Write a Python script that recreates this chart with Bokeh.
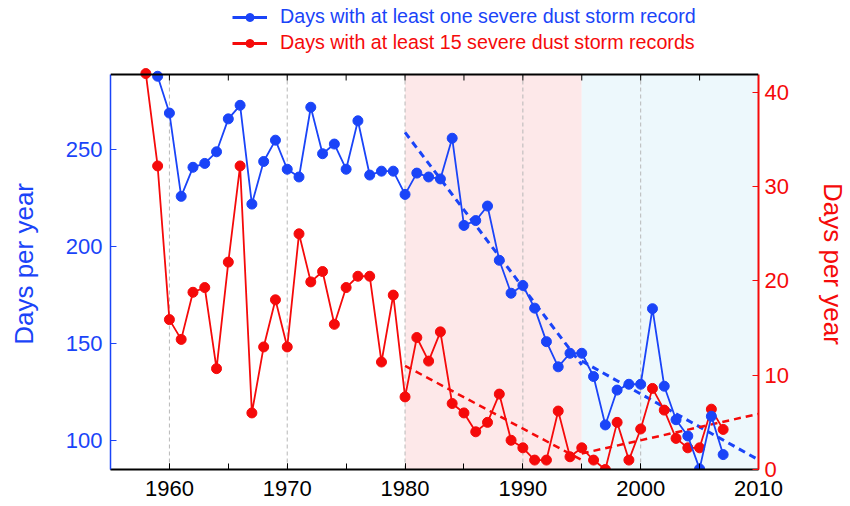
from bokeh.plotting import figure
from bokeh.models import (Range1d, LinearAxis, Legend, LegendItem, BoxAnnotation, Span,
                          SingleIntervalTicker, FixedTicker)
from bokeh.embed import file_html
from bokeh.resources import INLINE

# ---------------- data ----------------
years_one = list(range(1959, 2008))
days_one = [288, 269, 226, 241, 243, 249, 266, 273, 222, 244, 255, 240, 236, 272, 248,
            253, 240, 265, 237, 239, 239, 227, 238, 236, 235, 256, 211, 213.5, 221, 193,
            176, 180, 168.3, 151, 138, 145, 145, 133, 108, 126, 129, 129, 168, 128,
            110.7, 102.3, 85.3, 112.5, 92.7]

years_15 = list(range(1958, 2008))
days_15 = [42, 32.2, 15.9, 13.8, 18.8, 19.3, 10.7, 22.0, 32.2, 6.0, 13.0, 18.0, 13.0, 25.0,
           19.9, 21.0, 15.4, 19.3, 20.5, 20.5, 11.4, 18.5, 7.7, 14.0, 11.5, 14.6, 7.0, 6.0,
           4.0, 5.0, 8.0, 3.1, 2.3, 1.0, 1.0, 6.2, 1.35, 2.3, 1.0, 0.0, 5.0, 1.0, 4.3, 8.6,
           6.3, 3.3, 2.3, 2.3, 6.4, 4.25]

# trend segments
trend_one_a_x = [1980, 1995]
trend_one_a_y = [259, 139]
trend_one_b_x = [1995, 2010]
trend_one_b_y = [141, 90]
trend_15_a_x = [1980, 1995]
trend_15_a_y = [11.0, 1.0]
trend_15_b_x = [1995, 2010]
trend_15_b_y = [1.7, 5.9]

# shaded periods
period_1 = (1980, 1995)
period_2 = (1995, 2010)

grid_years = [1960, 1970, 1980, 1990, 2000]
top_tick_years = [1960, 1965, 1970, 1975, 1980, 1985, 1990, 1995, 2000, 2005]
left_ticks = [100, 150, 200, 250]
right_ticks = [0, 10, 20, 30, 40]

# data extents of the boxed plot area
X_MIN, X_MAX = 1955, 2010
L_MIN, L_MAX = 85, 288.9
R_MIN, R_MAX = 0, 41.9

label_one = "Days with at least one severe dust storm record"
label_15 = "Days with at least 15 severe dust storm records"
axis_title = "Days per year"

BLUE = "#1a44f8"
RED = "#f50a0a"
FONT = "Liberation Sans"

# layout geometry (pixels)
W, H = 850, 506
BORDER_L, BORDER_R, BORDER_B = 110, 92, 37
BOX_TOP = 74                      # pixel row of the top frame line
frame_h = H - BORDER_B            # frame spans whole height above the bottom axis
box_h = frame_h - BOX_TOP
# extend ranges upward so the box top sits at BOX_TOP, leaving room for the legend
l_top = L_MIN + (L_MAX - L_MIN) * frame_h / box_h
r_top = R_MIN + (R_MAX - R_MIN) * frame_h / box_h

# axis titles are centred on the full frame; pad them so the visible words sit
# centred on the box (non-breaking spaces are kept by the SVG text)
PAD = "\u00a0" * 8

p = figure(width=W, height=H, output_backend="svg", toolbar_location=None, title=None,
           x_range=Range1d(X_MIN, X_MAX), y_range=Range1d(L_MIN, l_top),
           min_border_left=BORDER_L, min_border_right=BORDER_R, min_border_top=0,
           min_border_bottom=BORDER_B)
p.extra_y_ranges = {"right": Range1d(R_MIN, r_top)}
p.outline_line_color = None
p.background_fill_color = "white"
p.border_fill_color = "white"
p.xgrid.visible = False
p.ygrid.visible = False

# shading
p.add_layout(BoxAnnotation(left=period_1[0], right=period_1[1], bottom=L_MIN, top=L_MAX,
                           fill_color="#fde8e9", fill_alpha=1, line_alpha=0, level="image"))
p.add_layout(BoxAnnotation(left=period_2[0], right=period_2[1], bottom=L_MIN, top=L_MAX,
                           fill_color="#edf8fc", fill_alpha=1, line_alpha=0, level="image"))

# vertical dashed grid lines inside the box
p.segment(x0=grid_years, y0=[L_MIN] * len(grid_years), x1=grid_years,
          y1=[L_MAX] * len(grid_years), line_color="#b8b8b8", line_dash="4 3",
          line_width=1)

# top frame line and inward ticks
p.add_layout(Span(location=L_MAX, dimension="width", line_color="black", line_width=2))
tick_len = 6 * (l_top - L_MIN) / frame_h
p.segment(x0=top_tick_years, y0=[L_MAX] * len(top_tick_years), x1=top_tick_years,
          y1=[L_MAX - tick_len] * len(top_tick_years), line_color="black", line_width=1)

# bottom axis
xa = p.xaxis[0]
xa.ticker = SingleIntervalTicker(interval=10, num_minor_ticks=2)
xa.major_tick_in = 6
xa.major_tick_out = 0
xa.minor_tick_in = 6
xa.minor_tick_out = 0
xa.axis_line_width = 2
xa.axis_line_color = "black"
xa.major_label_text_font = FONT
xa.major_label_text_font_size = "22px"
xa.major_label_text_color = "black"
xa.major_label_standoff = 11

# left axis
ya = p.yaxis[0]
ya.bounds = (L_MIN, L_MAX)
ya.ticker = FixedTicker(ticks=left_ticks)
ya.major_tick_in = 6
ya.major_tick_out = 0
ya.minor_tick_line_color = None
ya.axis_line_color = BLUE
ya.axis_line_width = 1.5
ya.major_tick_line_color = BLUE
ya.major_label_text_color = BLUE
ya.major_label_text_font = FONT
ya.major_label_text_font_size = "22px"
ya.major_label_standoff = 8
ya.axis_label = axis_title + PAD          # reads upward: padding goes on top
ya.axis_label_text_color = BLUE
ya.axis_label_text_font = FONT
ya.axis_label_text_font_style = "normal"
ya.axis_label_text_font_size = "26px"
ya.axis_label_standoff = 24

# right axis
ra = LinearAxis(y_range_name="right", ticker=FixedTicker(ticks=right_ticks),
                bounds=(R_MIN, R_MAX))
ra.major_tick_in = 6
ra.major_tick_out = 0
ra.minor_tick_line_color = None
ra.axis_line_color = RED
ra.axis_line_width = 2
ra.major_tick_line_color = RED
ra.major_label_text_color = RED
ra.major_label_text_font = FONT
ra.major_label_text_font_size = "22px"
ra.major_label_standoff = 6
ra.axis_label = PAD + axis_title          # reads downward: padding goes on top
ra.axis_label_text_color = RED
ra.axis_label_text_font = FONT
ra.axis_label_text_font_style = "normal"
ra.axis_label_text_font_size = "26px"
ra.axis_label_standoff = 26
p.add_layout(ra, "right")

# trend lines
p.line(trend_one_a_x, trend_one_a_y, line_color=BLUE, line_width=3, line_dash="7 5")
p.line(trend_one_b_x, trend_one_b_y, line_color=BLUE, line_width=3, line_dash="7 5")
p.line(trend_15_a_x, trend_15_a_y, line_color=RED, line_width=2.5, line_dash="7 5",
       y_range_name="right")
p.line(trend_15_b_x, trend_15_b_y, line_color=RED, line_width=2.5, line_dash="7 5",
       y_range_name="right")

# series
p.line(years_15, days_15, line_color=RED, line_width=1.8, y_range_name="right")
p.scatter(years_15, days_15, size=10, fill_color=RED, line_color=RED,
          y_range_name="right")
p.line(years_one, days_one, line_color=BLUE, line_width=1.8)
p.scatter(years_one, days_one, size=10, fill_color=BLUE, line_color=BLUE)

# legend swatches: renderers holding a single missing value (draw nothing in the
# plot, but give the key its bolder line and marker)
NAN = float("nan")
def swatch(color):
    ln = p.line([NAN], [NAN], line_color=color, line_width=3)
    mk = p.scatter([NAN], [NAN], size=11, fill_color=color, line_color=color)
    return [ln, mk]

# legends in the blank band above the box
for label, color, y in ((label_one, BLUE, 441), (label_15, RED, 415)):
    leg = Legend(items=[LegendItem(label=label, renderers=swatch(color))],
                 location=(122, y), label_text_color=color,
                 label_text_font=FONT, label_text_font_size="19.7px",
                 glyph_width=35, glyph_height=20, label_height=20, label_standoff=13,
                 padding=0, margin=0, border_line_alpha=0, background_fill_alpha=0)
    p.add_layout(leg)

open("out.html", "w").write(file_html(p, INLINE))
